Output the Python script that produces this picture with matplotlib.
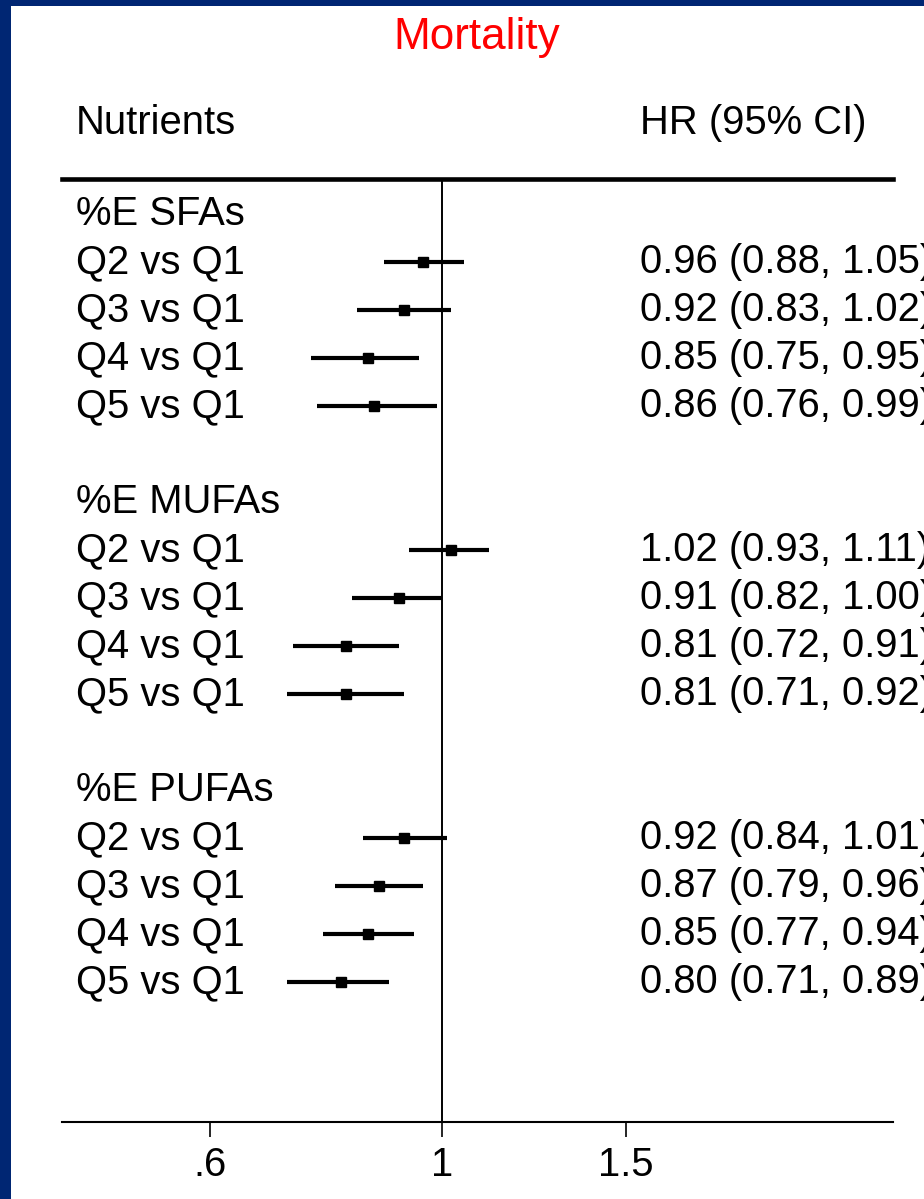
import numpy as np
import matplotlib
matplotlib.use("Agg")
import matplotlib.pyplot as plt
from matplotlib.patches import Rectangle
from matplotlib.transforms import blended_transform_factory

plt.rcParams['font.family'] = ['Liberation Sans', 'DejaVu Sans']

# Hazard ratios (95% CI) by quintile of energy from each fat type
groups = ["%E SFAs", "%E MUFAs", "%E PUFAs"]
comparisons = ["Q2 vs Q1", "Q3 vs Q1", "Q4 vs Q1", "Q5 vs Q1"]

sfa_hr = [0.96, 0.92, 0.85, 0.86]
sfa_lo = [0.88, 0.83, 0.75, 0.76]
sfa_hi = [1.05, 1.02, 0.95, 0.99]

mufa_hr = [1.02, 0.91, 0.81, 0.81]
mufa_lo = [0.93, 0.82, 0.72, 0.71]
mufa_hi = [1.11, 1.00, 0.91, 0.92]

pufa_hr = [0.92, 0.87, 0.85, 0.80]
pufa_lo = [0.84, 0.79, 0.77, 0.71]
pufa_hi = [1.01, 0.96, 0.94, 0.89]

xticks = [0.6, 1, 1.5]
xtick_labels = [".6", "1", "1.5"]

W, H = 924, 1199
fig = plt.figure(figsize=(W / 100, H / 100), dpi=100)
fig.patch.set_facecolor("white")

# navy frame along the left and top edges
navy = "#002673"
fig.patches.append(Rectangle((0, 0), 11 / W, 1, transform=fig.transFigure,
                             facecolor=navy, edgecolor="none", zorder=0))
fig.patches.append(Rectangle((0, 1 - 6 / H), 1, 6 / H, transform=fig.transFigure,
                             facecolor=navy, edgecolor="none", zorder=0))

ax_left, ax_right = 62 / W, 893 / W
ax_top, ax_bottom = 1 - 179 / H, 1 - 1122 / H
ax = fig.add_axes([ax_left, ax_bottom, ax_right - ax_left, ax_top - ax_bottom])
ax.set_facecolor("none")

ax.set_xscale("log")
ax.set_xlim(0.433, 2.70)
# rows are 48 px apart; row 0 is the first group header
ax.set_ylim((1122 - 214) / 48, (179 - 214) / 48)

ax.axvline(1, color="black", lw=1.4, zorder=1)

font_px = 40
fs = font_px * 72 / 100

lab_tr = blended_transform_factory(fig.transFigure, ax.transData)

all_hr = [sfa_hr, mufa_hr, pufa_hr]
all_lo = [sfa_lo, mufa_lo, pufa_lo]
all_hi = [sfa_hi, mufa_hi, pufa_hi]

for g, name in enumerate(groups):
    head = g * 6
    ax.text(76 / W, head, name, transform=lab_tr, fontsize=fs,
            va="center", ha="left", clip_on=False)
    for i, comp in enumerate(comparisons):
        row = head + 1 + i
        hr, lo, hi = all_hr[g][i], all_lo[g][i], all_hi[g][i]
        ax.plot([lo, hi], [row, row], color="black", lw=3.0,
                solid_capstyle="butt", zorder=2)
        ax.plot([hr], [row], marker="s", ms=6.5, color="black", zorder=3)
        ax.text(76 / W, row, comp, transform=lab_tr, fontsize=fs,
                va="center", ha="left", clip_on=False)
        ax.text(640 / W, row, f"{hr:.2f} ({lo:.2f}, {hi:.2f})",
                transform=lab_tr, fontsize=fs, va="center", ha="left",
                clip_on=False)

# column headers and title
fig.text(76 / W, 1 - 123 / H, "Nutrients", fontsize=fs, va="center", ha="left")
fig.text(640 / W, 1 - 123 / H, "HR (95% CI)", fontsize=fs, va="center", ha="left")
fig.text(477 / W, 1 - 38 / H, "Mortality", fontsize=44 * 72 / 100,
         color="#ff0000", va="center", ha="center")

for side in ["left", "right"]:
    ax.spines[side].set_visible(False)
ax.spines["top"].set_linewidth(3.3)
ax.spines["bottom"].set_linewidth(1.5)

ax.set_xticks(xticks)
ax.set_xticklabels(xtick_labels)
ax.xaxis.set_minor_locator(matplotlib.ticker.NullLocator())
ax.tick_params(axis="x", which="major", length=11, width=1.2,
               labelsize=fs, pad=6, direction="out")
ax.set_yticks([])

fig.savefig("out.png", dpi=100, facecolor="white")
